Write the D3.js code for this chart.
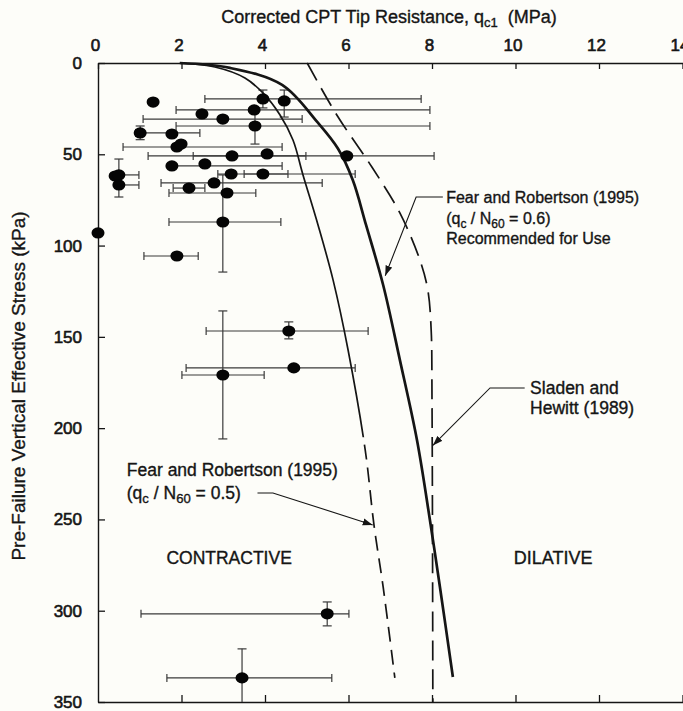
<!DOCTYPE html>
<html><head><meta charset="utf-8">
<script src="https://cdn.jsdelivr.net/npm/d3@7"></script>
<style>
html,body{margin:0;padding:0;background:#fdfdf9;}
svg{display:block;font-family:"Liberation Sans",Arial,sans-serif;}
svg text{stroke:#151515;stroke-width:0.35px;}
</style></head><body>
<svg id="c" width="683" height="711"></svg>
<script>
// ---------- data ----------
const xTicks = [0, 2, 4, 6, 8, 10, 12, 14];
const yTicks = [0, 50, 100, 150, 200, 250, 300, 350];
const xTitle = "Corrected CPT Tip Resistance, q";
const yTitle = "Pre-Failure Vertical Effective Stress  (kPa)";

// case history points (qc1 MPa, sigma'v kPa) with ranges (null = none)
const ptX = [1.32,3.95,4.46,3.74,2.49,2.99,3.76,1.01,1.77,1.89,1.99,3.21,4.05,5.96,1.77,2.56,0.41,0.50,0.50,3.19,3.95,2.78,2.18,3.09,2.99,0.00,1.89,4.57,4.69,2.99,5.49,3.45];
const ptY = [21.4,19.7,20.8,25.7,27.9,30.7,34.5,38.3,38.9,46.0,44.4,50.9,49.8,50.9,56.4,55.3,61.9,61.3,66.8,60.8,60.8,65.7,68.5,71.2,87.1,93.1,105.7,146.8,167.0,170.9,301.7,336.8];
const xLo = [null,2.56,null,1.87,null,1.08,1.87,0.90,null,0.60,null,2.28,null,1.20,1.77,null,null,0.50,0.50,2.87,3.50,1.51,1.80,1.70,1.70,null,1.10,2.59,2.11,2.01,1.03,1.65];
const xHi = [null,7.74,null,7.95,null,4.89,7.95,2.44,null,4.41,null,4.98,null,8.05,4.41,null,null,0.98,0.98,4.55,6.16,5.37,2.56,3.78,4.38,null,2.40,6.47,6.16,3.98,6.01,5.60];
const yLo = [null,14.8,14.8,null,null,null,25.2,34.5,null,null,null,null,null,null,null,null,null,52.6,66.8,null,null,null,null,null,61.3,null,null,141.8,null,135.8,295.2,320.9];
const yHi = [null,24.6,29.6,null,null,null,44.4,42.0,null,null,null,null,null,null,null,null,null,61.3,73.4,null,null,null,null,null,114.5,null,null,151.1,null,205.9,308.3,350.0];

// boundary curves
const fr05X = [1.96,2.80,3.52,3.95,4.36,4.67,4.91,5.27,5.63,5.99,6.40,6.61,6.83,7.11];
const fr05Y = [0,2.2,8.2,16.4,28.5,42.2,61.3,88.7,118.8,157.2,211.9,253.0,287.0,336.8];
const fr05DashFrom = 205; // kPa, curve dashed below this
const fr06X = [1.96,3.16,4.41,5.25,5.75,6.10,6.42,6.83,7.23,7.64,7.95,8.19,8.50];
const fr06Y = [0,2.7,12.0,32.3,47.0,64.0,88.7,121.6,162.6,206.5,250.3,287.0,336.3];
const shX = [5.01,5.72,6.56,7.23,7.71,7.90,7.98,8.00,8.02];
const shY = [0,28.5,57.0,82.1,107.9,124.3,146.2,184.6,350];

// annotations
const frRecLines = ["Fear and Robertson (1995)", "(q|c| / N|60| = 0.6)", "Recommended for Use"];
const shLines = ["Sladen and", "Hewitt (1989)"];
const fr05Lines = ["Fear and Robertson (1995)", "(q|c| / N|60| = 0.5)"];
const zoneLabels = ["CONTRACTIVE", "DILATIVE"];

// ---------- drawing ----------
const svg = d3.select("#c");
const x = d3.scaleLinear().domain([0, 14]).range([98, 682.5]);
const y = d3.scaleLinear().domain([0, 350]).range([63, 702]);
const ink = "#151515";

const defs = svg.append("defs");
defs.append("marker").attr("id","arr").attr("viewBox","0 0 10 8")
  .attr("refX",10).attr("refY",4).attr("markerWidth",10).attr("markerHeight",8)
  .attr("markerUnits","userSpaceOnUse").attr("orient","auto")
  .append("path").attr("d","M0,0.5 L10,4 L0,7.5 Z").attr("fill",ink);
defs.append("clipPath").attr("id","solidPart").append("rect")
  .attr("x",0).attr("y",0).attr("width",683).attr("height",y(fr05DashFrom));
defs.append("clipPath").attr("id","dashPart").append("rect")
  .attr("x",0).attr("y",y(fr05DashFrom)).attr("width",683).attr("height",711);

function styleAxis(g){
  g.attr("font-family",null).attr("font-size",null);
  g.select(".domain").attr("stroke",ink).attr("stroke-width",1.4);
  g.selectAll(".tick line").attr("stroke",ink).attr("stroke-width",1.3);
  g.selectAll(".tick text").attr("fill",ink).style("font-size","17px").style("stroke-width","0.6px");
}
svg.append("g").attr("transform",`translate(0,${y(0)})`)
  .call(d3.axisTop(x).tickValues(xTicks).tickSizeInner(-6).tickSizeOuter(0).tickPadding(12).tickFormat(d3.format("d")))
  .call(styleAxis)
  .selectAll(".tick text").attr("dx",-3);
svg.append("g").attr("transform",`translate(${x(0)},0)`)
  .call(d3.axisLeft(y).tickValues(yTicks).tickSizeInner(-7).tickSizeOuter(0).tickPadding(16).tickFormat(d3.format("d")))
  .call(styleAxis);
svg.append("g").attr("transform",`translate(0,${y(350)})`)
  .call(d3.axisBottom(x).tickValues(xTicks.slice(1)).tickSizeInner(-7).tickSizeOuter(0).tickFormat(()=>""))
  .call(styleAxis);

// titles
const tt = svg.append("text").attr("x",389).attr("y",23).attr("text-anchor","middle")
  .attr("fill",ink).style("font-size","18px");
tt.append("tspan").text(xTitle);
tt.append("tspan").attr("dy",4).style("font-size","13px").text("c1");
tt.append("tspan").attr("dy",-4).text("\u00a0 (MPa)");
svg.append("text").attr("transform",`translate(25,386) rotate(-90)`)
  .attr("text-anchor","middle").attr("fill",ink).style("font-size","19px").text(yTitle);

// error bars
const eb = svg.append("g").attr("stroke","#3a3a3a").attr("stroke-width",1.2).attr("fill","none");
ptX.forEach((px,i)=>{
  if (xLo[i]!==null){
    eb.append("line").attr("x1",x(xLo[i])).attr("x2",x(xHi[i])).attr("y1",y(ptY[i])).attr("y2",y(ptY[i]));
    [xLo[i],xHi[i]].forEach(v=>{ if (v!==px) eb.append("line").attr("x1",x(v)).attr("x2",x(v)).attr("y1",y(ptY[i])-4).attr("y2",y(ptY[i])+4); });
  }
  if (yLo[i]!==null){
    eb.append("line").attr("x1",x(px)).attr("x2",x(px)).attr("y1",y(yLo[i])).attr("y2",y(yHi[i]));
    [yLo[i],yHi[i]].forEach(v=>{ if (v!==ptY[i] && v<350) eb.append("line").attr("y1",y(v)).attr("y2",y(v)).attr("x1",x(px)-4.5).attr("x2",x(px)+4.5); });
  }
});

// curves
const line = d3.line().x(d=>x(d[0])).y(d=>y(d[1])).curve(d3.curveCatmullRom.alpha(0.5));
const fr05 = fr05X.map((v,i)=>[v,fr05Y[i]]);
const fr06 = fr06X.map((v,i)=>[v,fr06Y[i]]);
const sh = shX.map((v,i)=>[v,shY[i]]);
svg.append("path").attr("d",line(fr05)).attr("fill","none").attr("stroke",ink).attr("stroke-width",1.7).attr("clip-path","url(#solidPart)");
svg.append("path").attr("d",line(fr05)).attr("fill","none").attr("stroke",ink).attr("stroke-width",1.7).attr("stroke-dasharray","15,8").attr("clip-path","url(#dashPart)");
svg.append("path").attr("d",line(fr06)).attr("fill","none").attr("stroke",ink).attr("stroke-width",2.7);
svg.append("path").attr("d",line(sh)).attr("fill","none").attr("stroke",ink).attr("stroke-width",1.7).attr("stroke-dasharray","20,9");

// points
svg.append("g").selectAll("ellipse").data(ptX).join("ellipse")
  .attr("cx",(d)=>x(d)).attr("cy",(d,i)=>y(ptY[i])).attr("rx",6.5).attr("ry",5.6).attr("fill","#050505");

// annotation helpers
function multiLine(lines, x0, y0s, size){
  lines.forEach((s,k)=>{
    const t = svg.append("text").attr("x",x(x0)).attr("y",y(y0s[k]))
      .attr("fill",ink).style("font-size",size+"px");
    const parts = s.split("|");
    parts.forEach((p,j)=>{
      const ts = t.append("tspan").text(p.replace(/ /g,"\u00a0"));
      if (j%2===1){ ts.attr("dy",4).style("font-size",(size*0.75)+"px"); }
      else if (j>0){ ts.attr("dy",-4); }
    });
  });
}
const leader = d3.line().x(d=>x(d[0])).y(d=>y(d[1]));
const leaders = [
  [[8.26,73.4],[7.62,73.4],[6.88,116.5]],
  [[10.22,178],[9.39,178],[8.02,209.5]],
  [[3.82,235.5],[4.19,235.5],[6.58,253]]
];
leaders.forEach(l=>svg.append("path").attr("d",leader(l)).attr("fill","none").attr("stroke",ink).attr("stroke-width",1.1).attr("marker-end","url(#arr)"));

multiLine(frRecLines, 8.34, [76.7, 88.2, 99.1], 16);
multiLine(shLines, 10.35, [181.3, 192.2], 17.5);
multiLine(fr05Lines, 0.69, [226.2, 238.8], 17.5);
svg.append("text").attr("x",x(3.14)).attr("y",y(274.4)).attr("text-anchor","middle").attr("fill",ink).style("font-size","17.5px").text(zoneLabels[0]);
svg.append("text").attr("x",x(10.9)).attr("y",y(274.4)).attr("text-anchor","middle").attr("fill",ink).style("font-size","18px").text(zoneLabels[1]);
</script>
</body></html>
